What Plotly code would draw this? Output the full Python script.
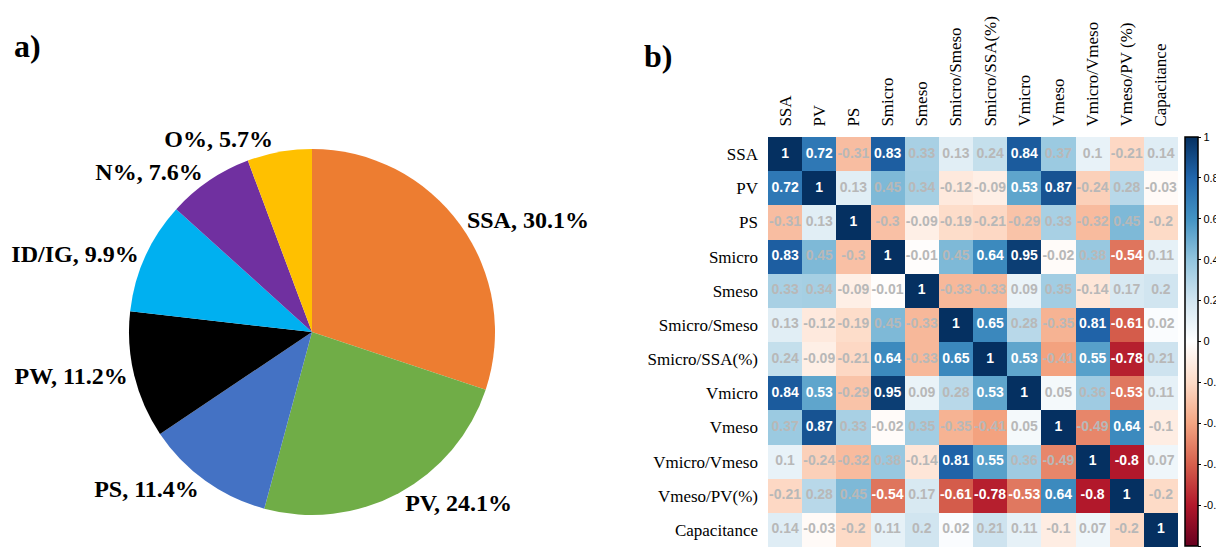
import plotly.graph_objects as go

# ---- Pie data ----
pie_labels = ["SSA", "PV", "PS", "PW", "ID/IG", "N%", "O%"]
pie_values = [30.1, 24.1, 11.4, 11.2, 9.9, 7.6, 5.7]
pie_colors = ["#ED7D31", "#70AD47", "#4472C4", "#000000", "#00B0F0", "#7030A0", "#FFC000"]

# ---- Correlation data ----
vars_ = ["SSA", "PV", "PS", "Smicro", "Smeso", "Smicro/Smeso", "Smicro/SSA(%)",
         "Vmicro", "Vmeso", "Vmicro/Vmeso", "Vmeso/PV (%)", "Capacitance"]
row_labels = ["SSA", "PV", "PS", "Smicro", "Smeso", "Smicro/Smeso", "Smicro/SSA(%)",
              "Vmicro", "Vmeso", "Vmicro/Vmeso", "Vmeso/PV(%)", "Capacitance"]
corr = [
    [1, 0.72, -0.31, 0.83, 0.33, 0.13, 0.24, 0.84, 0.37, 0.1, -0.21, 0.14],
    [0.72, 1, 0.13, 0.45, 0.34, -0.12, -0.09, 0.53, 0.87, -0.24, 0.28, -0.03],
    [-0.31, 0.13, 1, -0.3, -0.09, -0.19, -0.21, -0.29, 0.33, -0.32, 0.45, -0.2],
    [0.83, 0.45, -0.3, 1, -0.01, 0.45, 0.64, 0.95, -0.02, 0.38, -0.54, 0.11],
    [0.33, 0.34, -0.09, -0.01, 1, -0.33, -0.33, 0.09, 0.35, -0.14, 0.17, 0.2],
    [0.13, -0.12, -0.19, 0.45, -0.33, 1, 0.65, 0.28, -0.35, 0.81, -0.61, 0.02],
    [0.24, -0.09, -0.21, 0.64, -0.33, 0.65, 1, 0.53, -0.41, 0.55, -0.78, 0.21],
    [0.84, 0.53, -0.29, 0.95, 0.09, 0.28, 0.53, 1, 0.05, 0.36, -0.53, 0.11],
    [0.37, 0.87, 0.33, -0.02, 0.35, -0.35, -0.41, 0.05, 1, -0.49, 0.64, -0.1],
    [0.1, -0.24, -0.32, 0.38, -0.14, 0.81, 0.55, 0.36, -0.49, 1, -0.8, 0.07],
    [-0.21, 0.28, 0.45, -0.54, 0.17, -0.61, -0.78, -0.53, 0.64, -0.8, 1, -0.2],
    [0.14, -0.03, -0.2, 0.11, 0.2, 0.02, 0.21, 0.11, -0.1, 0.07, -0.2, 1],
]
cbar_ticks = [1, 0.8, 0.6, 0.4, 0.2, 0, -0.2, -0.4, -0.6, -0.8, -1]

rdbu = [
    [0.0, "#67001F"], [0.1, "#B2182B"], [0.2, "#D6604D"], [0.3, "#F4A582"],
    [0.4, "#FDDBC7"], [0.5, "#FFFFFF"], [0.6, "#D1E5F0"], [0.7, "#92C5DE"],
    [0.8, "#4393C3"], [0.9, "#2166AC"], [1.0, "#053061"],
]

# page has an 8px body margin: figure is drawn from (8, 8)
OFF = 8
W, H = 1224 - OFF, 550 - OFF
SERIF = "Liberation Serif, Times New Roman, serif"
SANS = "Liberation Sans, Arial, sans-serif"


def px(x):
    return (x - OFF) / W


def py(y):
    return 1 - (y - OFF) / H


fig = go.Figure()

# Pie
cx, cy, r = 312, 332, 183
fig.add_trace(go.Pie(
    labels=pie_labels, values=pie_values, sort=False, direction="clockwise",
    rotation=0, marker=dict(colors=pie_colors, line=dict(width=0)),
    textposition="outside", texttemplate="%{label}, %{value}%",
    textfont=dict(family=SERIF, size=24, color="black", weight="bold"),
    showlegend=False, hoverinfo="label+value", automargin=False,
    domain=dict(x=[px(cx - r), px(cx + r)], y=[py(cy + r), py(cy - r)]),
))

# Heatmap
n = len(vars_)
fig.add_trace(go.Heatmap(
    z=corr, x=list(range(n)), y=list(range(n)), zmin=-1, zmax=1,
    colorscale=rdbu, xgap=0, ygap=0, xaxis="x", yaxis="y",
    colorbar=dict(
        x=px(1185), xanchor="left", xpad=0, ypad=0,
        y=py(546), yanchor="bottom", len=(546 - 137) / H, lenmode="fraction",
        thickness=13, outlinecolor="black", outlinewidth=1.5,
        tickvals=cbar_ticks, ticktext=[("%g" % t) for t in cbar_ticks],
        ticks="outside", ticklen=3, tickcolor="black",
        tickfont=dict(family=SANS, size=11, color="black"),
    ),
    hoverinfo="z",
))

# numbers
xs, ys, txt, cols = [], [], [], []
for i in range(n):
    for j in range(n):
        v = corr[i][j]
        xs.append(j)
        ys.append(i)
        txt.append("%g" % v)
        cols.append("white" if abs(v) >= 0.5 else "#b8b8b8")
fig.add_trace(go.Scatter(
    x=xs, y=ys, mode="text", text=txt,
    textfont=dict(family=SANS, size=14, color=cols, weight="bold"),
    showlegend=False, hoverinfo="skip", xaxis="x", yaxis="y",
))

fig.update_layout(
    width=W, height=H, margin=dict(l=0, r=0, t=0, b=0, autoexpand=False),
    paper_bgcolor="white", plot_bgcolor="white",
    xaxis=dict(
        domain=[px(768), px(1178)], range=[-0.5, n - 0.5], side="top",
        tickvals=list(range(n)), ticktext=vars_, tickangle=-90,
        tickfont=dict(family=SERIF, size=17, color="black"),
        showgrid=False, zeroline=False, ticks="outside", ticklen=6,
        tickcolor="rgba(0,0,0,0)", showline=False, anchor="y",
        automargin=False, ticklabelstandoff=0,
    ),
    yaxis=dict(
        domain=[py(547), py(137)], range=[n - 0.5, -0.5],
        tickvals=list(range(n)), ticktext=row_labels,
        tickfont=dict(family=SERIF, size=17, color="black"),
        showgrid=False, zeroline=False, ticks="", showline=False, anchor="x",
        ticklabelstandoff=9, automargin=False,
    ),
    annotations=[
        dict(text="<b>a)</b>", x=px(12), y=py(26), xref="paper", yref="paper",
             xanchor="left", yanchor="top", showarrow=False,
             font=dict(family=SERIF, size=32, color="black")),
        dict(text="<b>b)</b>", x=px(642), y=py(36), xref="paper", yref="paper",
             xanchor="left", yanchor="top", showarrow=False,
             font=dict(family=SERIF, size=32, color="black")),
    ],
)

fig.write_html("out.html")
